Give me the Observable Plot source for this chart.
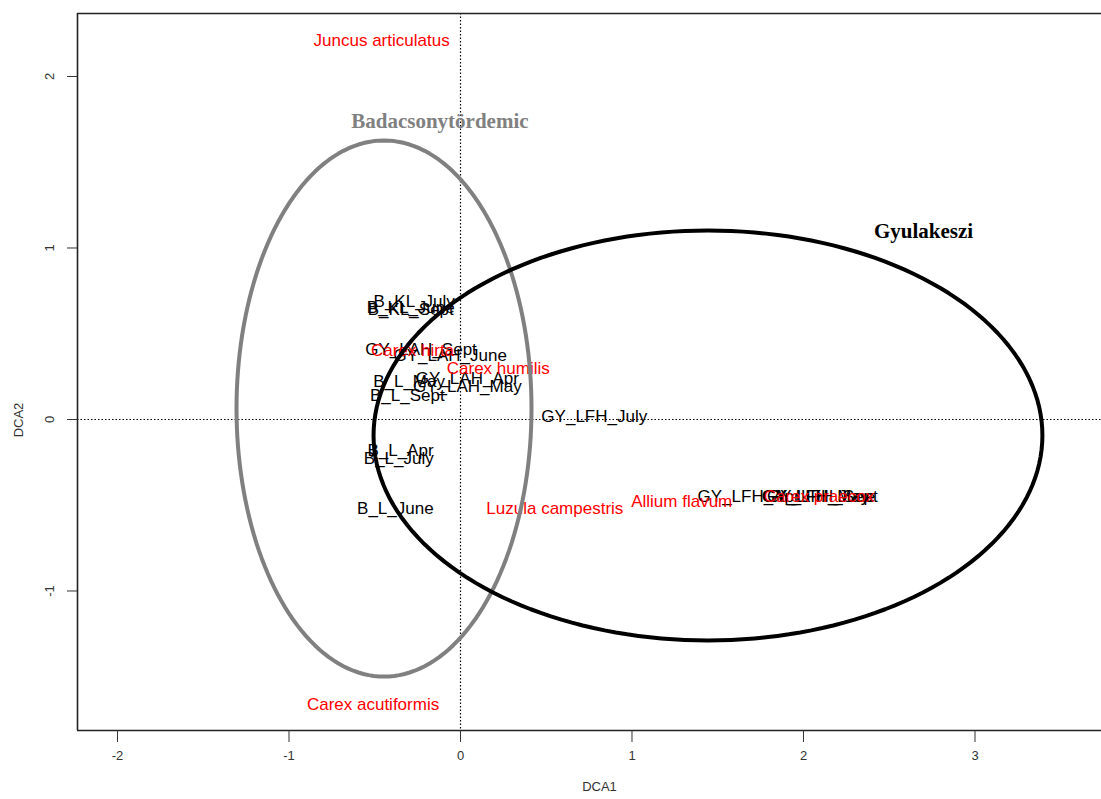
<!DOCTYPE html>
<html>
<head>
<meta charset="utf-8">
<script src="https://cdn.jsdelivr.net/npm/d3@7"></script>
<script src="https://cdn.jsdelivr.net/npm/@observablehq/plot@0.6"></script>
<style>
  html, body { margin: 0; padding: 0; background: #fff; }
  #chart svg { display: block; }
</style>
</head>
<body>
<div id="chart"></div>
<script>
// DCA site scores (sample plots by month)
const siteNames = [
  "B_KL_July", "B_KL_June", "B_KL_Sept",
  "GY_LAH_Sept", "GY_LAH_June", "B_L_May", "GY_LAH_Apr", "GY_LAH_May", "B_L_Sept",
  "GY_LFH_July", "B_L_Apr", "B_L_July", "B_L_June",
  "GY_LFH_Apr", "GY_LFH_May", "GY_LFH_June", "GY_LFH_Sept"
];
const siteDCA1 = [-0.27, -0.29, -0.29, -0.23, -0.06, -0.30, 0.04, 0.04, -0.31, 0.78, -0.35, -0.36, -0.38, 1.68, 2.07, 2.09, 2.11];
const siteDCA2 = [0.69, 0.65, 0.64, 0.41, 0.37, 0.22, 0.24, 0.19, 0.14, 0.02, -0.18, -0.23, -0.52, -0.45, -0.45, -0.45, -0.45];

// DCA species scores
const speciesNames = [
  "Juncus articulatus", "Carex hirta", "Carex humilis", "Luzula campestris",
  "Allium flavum", "Carex praecox", "Carex acutiformis"
];
const speciesDCA1 = [-0.46, -0.28, 0.22, 0.55, 1.29, 2.09, -0.51];
const speciesDCA2 = [2.21, 0.40, 0.30, -0.52, -0.48, -0.45, -1.66];

// Group ellipses (centre, semi-axes) and their labels
const groupNames = ["Badacsonytördemic", "Gyulakeszi"];
const groupCX = [-0.446, 1.443];
const groupCY = [0.064, -0.093];
const groupRX = [0.86, 1.95];
const groupRY = [1.563, 1.195];
const groupLabelX = [-0.12, 2.70];
const groupLabelY = [1.74, 1.10];
const groupColors = ["#808080", "#000000"];

const xTicks = [-2, -1, 0, 1, 2, 3];
const yTicks = [-1, 0, 1, 2];

const sites = siteNames.map((name, i) => ({name, x: siteDCA1[i], y: siteDCA2[i]}));
const species = speciesNames.map((name, i) => ({name, x: speciesDCA1[i], y: speciesDCA2[i]}));
const groupLabels = groupNames.map((name, i) => ({name, x: groupLabelX[i], y: groupLabelY[i], color: groupColors[i]}));

// Outline points for each group ellipse
const ellipsePts = groupNames.flatMap((g, i) =>
  d3.range(0, 361, 2).map(a => {
    const t = a * Math.PI / 180;
    return {group: g, x: groupCX[i] + groupRX[i] * Math.cos(t), y: groupCY[i] + groupRY[i] * Math.sin(t)};
  })
);

const xDomain = [-2.2332, 3.7376];
const yDomain = [-1.8134, 2.3673];
const fmt = d => String(d);

const plot = Plot.plot({
  width: 1101,
  height: 799,
  marginLeft: 77,
  marginRight: 0,
  marginTop: 13,
  marginBottom: 69,
  x: {domain: xDomain},
  y: {domain: yDomain},
  color: {domain: groupNames, range: groupColors},
  style: {fontFamily: "'Liberation Sans', Arial, sans-serif", background: "#fff"},
  marks: [
    // zero reference lines
    Plot.ruleX([0], {stroke: "#000", strokeWidth: 1.2, strokeDasharray: "1.5,2"}),
    Plot.ruleY([0], {stroke: "#000", strokeWidth: 1.2, strokeDasharray: "1.5,2"}),
    // site scores, then species scores on top
    Plot.text(sites, {x: "x", y: "y", text: "name", fill: "#000", fontSize: 17}),
    Plot.text(species, {x: "x", y: "y", text: "name", fill: "#ff0000", fontSize: 17}),
    // group ellipses
    Plot.line(ellipsePts, {x: "x", y: "y", z: "group", stroke: "group", strokeWidth: 4, curve: "linear"}),
    Plot.text(groupLabels, {x: "x", y: "y", text: "name", fill: "color", fontSize: 21, fontWeight: "bold", fontFamily: "'Liberation Serif', 'Times New Roman', serif"}),
    // plot frame (left, top, bottom)
    Plot.ruleX([xDomain[0]], {stroke: "#222", strokeWidth: 1.6}),
    Plot.ruleY(yDomain, {stroke: "#222", strokeWidth: 1.6}),
    // axes
    Plot.axisX(xTicks, {tickSize: 12, tickPadding: 8, fontSize: 13, color: "#333", label: null, tickFormat: fmt}),
    Plot.axisY(yTicks, {tickSize: 10, tickPadding: 14, fontSize: 13, color: "#333", label: null, tickRotate: -90, textAnchor: "middle", tickFormat: fmt}),
    Plot.text(["DCA1"], {frameAnchor: "bottom", dx: 10, dy: 60, fontSize: 13, fill: "#333"}),
    Plot.text(["DCA2"], {frameAnchor: "left", dx: -59, dy: 48, rotate: -90, textAnchor: "middle", fontSize: 13, fill: "#333"})
  ]
});

document.getElementById("chart").appendChild(plot);
</script>
</body>
</html>
